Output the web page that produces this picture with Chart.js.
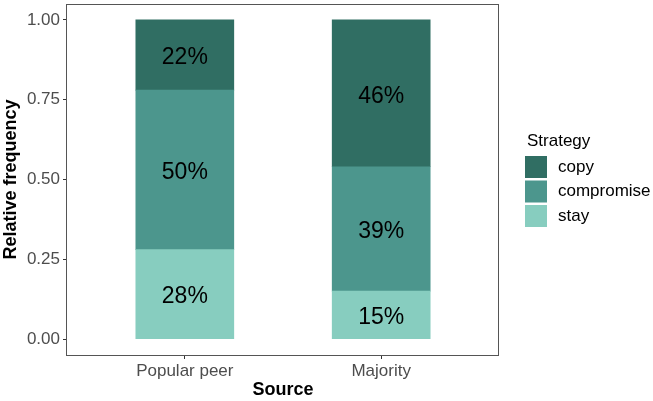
<!DOCTYPE html>
<html>
<head>
<meta charset="utf-8">
<script src="https://cdn.jsdelivr.net/npm/chart.js@4"></script>
<style>
  html, body { margin: 0; padding: 0; background: #fff; }
  #wrap { width: 653px; height: 401px; }
</style>
</head>
<body>
<div id="wrap"><canvas id="chart"></canvas></div>
<script>
const sources = ['Popular peer', 'Majority'];
const strategies = ['stay', 'compromise', 'copy'];
const stay = [0.28, 0.15];
const compromise = [0.50, 0.39];
const copy = [0.22, 0.46];
const yTicks = [0, 0.25, 0.5, 0.75, 1];

const colors = { stay: '#87cdbf', compromise: '#4c968d', copy: '#306e63' };
const FONT = "'Liberation Sans', Arial, sans-serif";

const series = { stay, compromise, copy };
const datasets = strategies.map(name => ({
    label: name,
    data: series[name].map((v, i) => ({ x: i + 1, y: v })),
    backgroundColor: colors[name],
    borderWidth: 0,
    barThickness: 98,
}));

// percentage labels in the middle of each segment
const barLabels = {
    id: 'barLabels',
    afterDatasetsDraw(chart) {
        const ctx = chart.ctx;
        ctx.save();
        ctx.font = '23px ' + FONT;
        ctx.fillStyle = '#000';
        ctx.textAlign = 'center';
        ctx.textBaseline = 'middle';
        chart.data.datasets.forEach((ds, di) => {
            chart.getDatasetMeta(di).data.forEach((el, i) => {
                const v = ds.data[i].y;
                ctx.fillText(Math.round(v * 100) + '%', el.x, (el.y + el.base) / 2 + 3);
            });
        });
        ctx.restore();
    },
};

// panel border + ggplot style legend
const panelAndLegend = {
    id: 'panelAndLegend',
    afterDraw(chart) {
        const ctx = chart.ctx;
        const a = chart.chartArea;
        ctx.save();
        ctx.strokeStyle = '#555';
        ctx.lineWidth = 1;
        ctx.strokeRect(a.left - 0.5, a.top + 0.5, a.right - a.left, a.bottom - a.top);

        const lx = a.right + 26;
        ctx.fillStyle = '#000';
        ctx.font = '17px ' + FONT;
        ctx.textBaseline = 'middle';
        ctx.textAlign = 'left';
        ctx.fillText('Strategy', lx + 2, 141);
        const items = chart.data.datasets.slice().reverse();
        items.forEach((ds, k) => {
            const y = 156 + k * 24.5;
            ctx.fillStyle = ds.backgroundColor;
            ctx.fillRect(lx, y, 22, 22);
            ctx.fillStyle = '#000';
            ctx.fillText(ds.label, lx + 33, y + 11);
        });
        ctx.restore();
    },
};

new Chart(document.getElementById('chart'), {
    type: 'bar',
    data: { datasets },
    options: {
        responsive: true,
        maintainAspectRatio: false,
        animation: false,
        layout: { padding: { left: 0, right: 154, top: 4, bottom: 0 } },
        plugins: {
            legend: { display: false },
            tooltip: { enabled: false },
        },
        scales: {
            x: {
                type: 'linear',
                min: 0.4,
                max: 2.6,
                offset: false,
                stacked: true,
                afterBuildTicks: s => { s.ticks = sources.map((_, i) => ({ value: i + 1 })); },
                afterFit: s => { s.height = 46; s.paddingLeft = 0; s.paddingRight = 0; },
                ticks: {
                    color: '#4d4d4d',
                    font: { family: FONT, size: 17 },
                    padding: 2,
                    maxRotation: 0,
                    callback: v => sources[v - 1],
                },
                grid: { offset: false, drawOnChartArea: false, tickLength: 4, tickColor: '#333' },
                border: { display: false },
                title: {
                    display: true,
                    text: 'Source',
                    color: '#000',
                    font: { family: FONT, size: 18, weight: 'bold' },
                    padding: { top: 0, bottom: 0 },
                },
            },
            y: {
                min: -0.05,
                max: 1.05,
                stacked: true,
                afterBuildTicks: s => { s.ticks = yTicks.map(v => ({ value: v })); },
                afterFit: s => { s.width = 67; s.paddingTop = 0; s.paddingBottom = 0; },
                ticks: {
                    color: '#4d4d4d',
                    font: { family: FONT, size: 17 },
                    padding: 3,
                    callback: v => v.toFixed(2),
                },
                grid: { drawOnChartArea: false, tickLength: 4, tickColor: '#333' },
                border: { display: false },
                title: {
                    display: true,
                    text: 'Relative frequency',
                    color: '#000',
                    font: { family: FONT, size: 18, weight: 'bold' },
                    padding: { top: 0, bottom: 0 },
                },
            },
        },
    },
    plugins: [barLabels, panelAndLegend],
});
</script>
</body>
</html>
